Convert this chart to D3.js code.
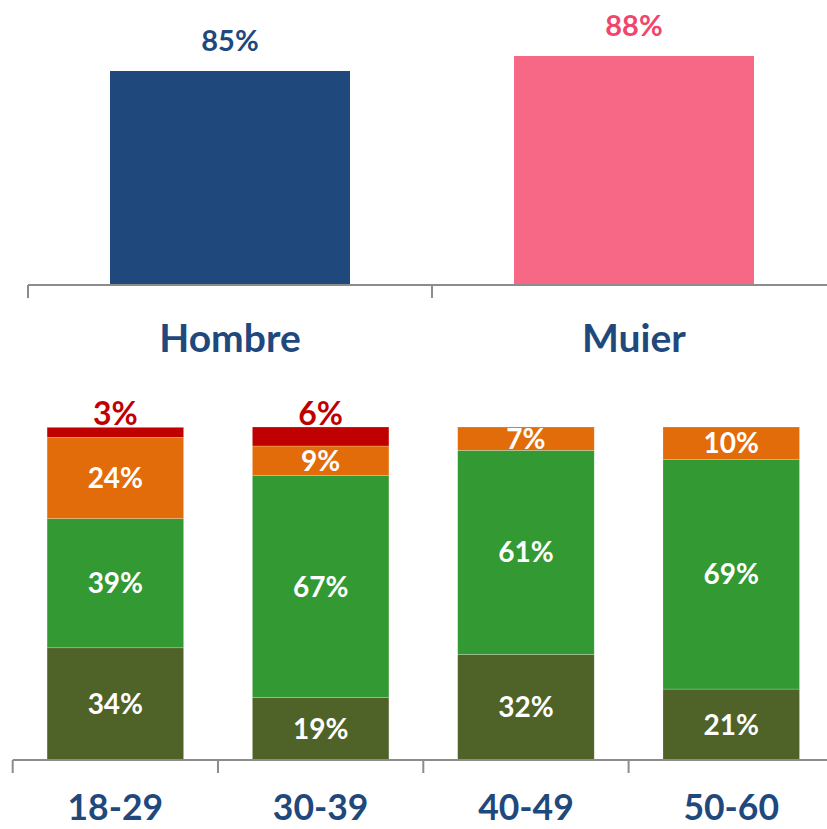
<!DOCTYPE html>
<html>
<head>
<meta charset="utf-8">
<script src="https://cdn.jsdelivr.net/npm/d3@7"></script>
<style>
  body { margin: 0; background: #fff; }
  text { font-family: Lato, "Open Sans", sans-serif; font-weight: bold; }
</style>
</head>
<body>
<script>
// top chart: gender
const genders = ['Hombre', 'Muier'];
const genderValues = [85, 88];
const genderColors = ['#1F497D', '#F76886'];
const genderLabelColors = ['#1F497D', '#F2456C'];

// bottom chart: age groups, stacked shares (%)
const ages = ['18-29', '30-39', '40-49', '50-60'];
const seriesNames = ['s1', 's2', 's3', 's4'];
const s1 = [33.7, 18.8, 31.7, 21.3];
const s2 = [38.8, 66.6, 61.3, 68.9];
const s3 = [24.4, 8.9, 7.0, 9.8];
const s4 = [3.0, 5.7, 0, 0];
const seriesColors = ['#4F6228', '#339933', '#E36C0A', '#C00000'];

const width = 827, height = 829;
const axisColor = '#8C8C8C';

const svg = d3.select('body').append('svg')
  .attr('width', width)
  .attr('height', height);

// ---------- TOP CHART ----------
const xTop = d3.scaleBand()
  .domain(genders)
  .range([28, 836])
  .paddingInner(0.406)
  .paddingOuter(0.203);

const yTop = d3.scaleLinear()
  .domain([42.2, 88])
  .range([285, 56]);

const gTop = svg.append('g');

gTop.selectAll('rect')
  .data(genders)
  .join('rect')
  .attr('x', d => xTop(d))
  .attr('y', (d, i) => yTop(genderValues[i]))
  .attr('width', xTop.bandwidth())
  .attr('height', (d, i) => yTop.range()[0] - yTop(genderValues[i]))
  .attr('fill', (d, i) => genderColors[i]);

gTop.selectAll('text.val')
  .data(genders)
  .join('text')
  .attr('class', 'val')
  .attr('x', d => xTop(d) + xTop.bandwidth() / 2)
  .attr('y', (d, i) => yTop(genderValues[i]) - 20.5)
  .attr('text-anchor', 'middle')
  .attr('font-size', 29)
  .attr('fill', (d, i) => genderLabelColors[i])
  .text((d, i) => genderValues[i] + '%');

// axis line with boundary ticks
const topBase = yTop.range()[0];
gTop.append('line')
  .attr('x1', xTop.range()[0]).attr('x2', xTop.range()[1])
  .attr('y1', topBase).attr('y2', topBase)
  .attr('stroke', axisColor).attr('stroke-width', 2);

const topBounds = d3.range(genders.length + 1).map(i => xTop.range()[0] + i * xTop.step());
gTop.selectAll('line.tick')
  .data(topBounds)
  .join('line')
  .attr('class', 'tick')
  .attr('x1', d => d).attr('x2', d => d)
  .attr('y1', topBase).attr('y2', topBase + 13)
  .attr('stroke', axisColor).attr('stroke-width', 2);

gTop.selectAll('text.cat')
  .data(genders)
  .join('text')
  .attr('class', 'cat')
  .attr('x', d => xTop(d) + xTop.bandwidth() / 2)
  .attr('y', 352)
  .attr('text-anchor', 'middle')
  .attr('font-size', 39)
  .attr('fill', '#1F497D')
  .text(d => d);

// ---------- BOTTOM CHART ----------
const rows = ages.map((a, i) => ({ age: a, s1: s1[i], s2: s2[i], s3: s3[i], s4: s4[i] }));
const stacked = d3.stack().keys(seriesNames)(rows);

const xBot = d3.scaleBand()
  .domain(ages)
  .range([12.7, 833.9])
  .paddingInner(0.335)
  .paddingOuter(0.1675);

const yBot = d3.scaleLinear()
  .domain([0, 100])
  .range([760, 427]);

const gBot = svg.append('g');

const layers = gBot.selectAll('g.layer')
  .data(stacked)
  .join('g')
  .attr('class', 'layer')
  .attr('fill', (d, i) => seriesColors[i]);

layers.selectAll('rect')
  .data(d => d.filter(p => p[1] - p[0] > 0))
  .join('rect')
  .attr('x', d => xBot(d.data.age))
  .attr('y', d => yBot(d[1]))
  .attr('width', xBot.bandwidth())
  .attr('height', d => yBot(d[0]) - yBot(d[1]))
  .attr('stroke', '#ffffff')
  .attr('stroke-opacity', 0.35)
  .attr('stroke-width', 0.6);

// segment labels
stacked.forEach((layer, li) => {
  const isTop = li === 3;
  gBot.selectAll('text.l' + li)
    .data(layer.filter(p => p[1] - p[0] > 0))
    .join('text')
    .attr('class', 'l' + li)
    .attr('x', d => xBot(d.data.age) + xBot.bandwidth() / 2)
    .attr('y', d => isTop ? yBot(d[1]) - 2.5 : (yBot(d[0]) + yBot(d[1])) / 2 + 10)
    .attr('text-anchor', 'middle')
    .attr('font-size', isTop ? 32 : 28)
    .attr('fill', isTop ? '#C00000' : '#ffffff')
    .text(d => Math.round(d[1] - d[0]) + '%');
});

const botBase = yBot.range()[0];
gBot.append('line')
  .attr('x1', xBot.range()[0]).attr('x2', xBot.range()[1])
  .attr('y1', botBase).attr('y2', botBase)
  .attr('stroke', axisColor).attr('stroke-width', 2);

const botBounds = d3.range(ages.length + 1).map(i => xBot.range()[0] + i * xBot.step());
gBot.selectAll('line.tick')
  .data(botBounds)
  .join('line')
  .attr('class', 'tick')
  .attr('x1', d => d).attr('x2', d => d)
  .attr('y1', botBase).attr('y2', botBase + 13)
  .attr('stroke', axisColor).attr('stroke-width', 2);

gBot.selectAll('text.cat')
  .data(ages)
  .join('text')
  .attr('class', 'cat')
  .attr('x', d => xBot(d) + xBot.bandwidth() / 2)
  .attr('y', 820)
  .attr('text-anchor', 'middle')
  .attr('font-size', 35.5)
  .attr('fill', '#1F497D')
  .text(d => d);
</script>
</body>
</html>
